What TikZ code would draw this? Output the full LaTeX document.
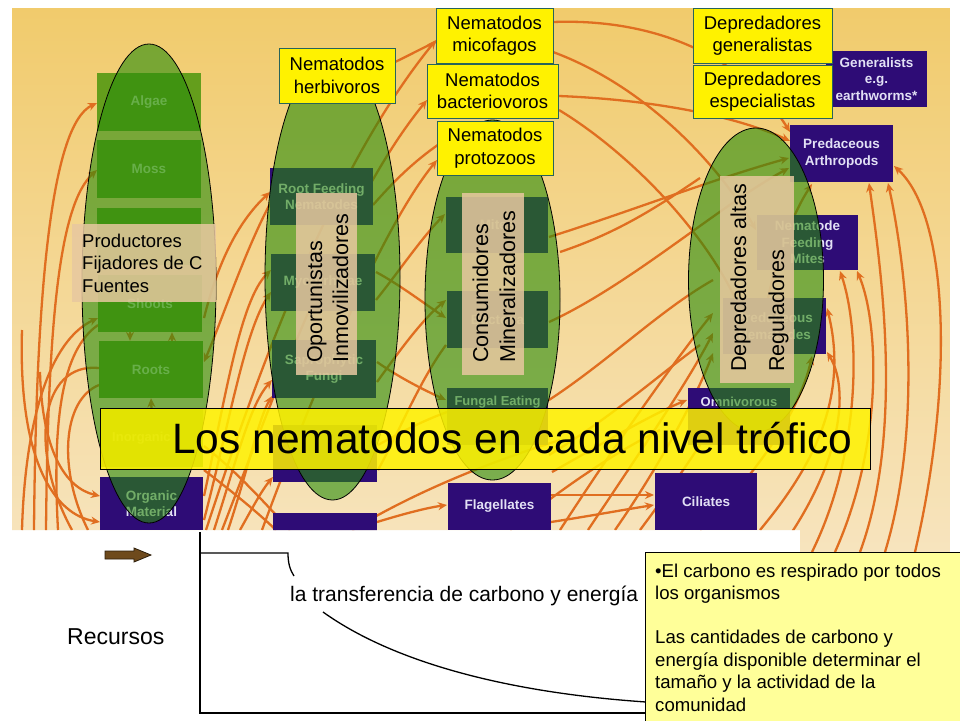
\documentclass[tikz,border=0pt]{standalone}
\usepackage{fontspec}
\setmainfont{Liberation Sans}
\usetikzlibrary{arrows.meta,shapes.geometric}
\definecolor{bgtop}{RGB}{241,203,108}
\definecolor{bgmid}{RGB}{245,219,158}
\definecolor{bgbot}{RGB}{247,228,190}
\definecolor{orng}{RGB}{224,110,32}
\definecolor{gbox}{RGB}{100,158,28}
\definecolor{pbox}{RGB}{46,12,118}
\definecolor{ellg}{RGB}{40,140,10}
\definecolor{tanlab}{RGB}{232,200,160}
\definecolor{ybord}{RGB}{40,100,90}
\definecolor{notey}{RGB}{255,255,153}
\definecolor{brwn}{RGB}{110,74,28}
\definecolor{gtext}{RGB}{200,228,170}
\definecolor{ptext}{RGB}{226,224,245}
\begin{document}
\begin{tikzpicture}[x=1pt,y=-1pt,
  wire/.style={draw=orng,line width=2.3pt},
  arr/.style={-{Stealth[length=9pt,width=8pt]}},
  webbox/.style={rectangle,inner sep=0pt,align=center,font=\bfseries\fontsize{13.5}{16.5}\selectfont},
  gb/.style={webbox,fill=gbox,text=gtext},
  pb/.style={webbox,fill=pbox,text=ptext},
  webtxt/.style={inner sep=0pt,font=\bfseries\fontsize{13}{16}\selectfont},
  grp/.style={ellipse,inner sep=0pt,draw=black,line width=0.8pt,fill=ellg,fill opacity=0.6},
  tanbox/.style={rectangle,inner sep=0pt,fill=tanlab,fill opacity=0.85},
  labtxt/.style={inner sep=0pt,font=\fontsize{21.5}{25}\selectfont},
  prodtxt/.style={inner sep=0pt,anchor=base west,font=\fontsize{18.5}{22.5}\selectfont},
  ylab/.style={rectangle,inner sep=0pt,fill=yellow,draw=ybord,line width=0.8pt,align=center,font=\fontsize{18.5}{22.5}\selectfont},
  notetxt/.style={inner sep=0pt,anchor=base west,font=\fontsize{18.6}{22.5}\selectfont},
]
\useasboundingbox (0,0) rectangle (960,720);
\fill[white] (0,0) rectangle (960,720);

\begin{scope}
\clip (12,8) -- (950,8) -- (950,552) -- (800,552) -- (800,530) -- (12,530) -- cycle;
\shade[top color=bgtop, middle color=bgmid, bottom color=bgbot] (12,8) rectangle (950,552);

% ---- left arrows
\draw[wire,arr] (34,530) .. controls (36,300) and (50,125) .. (97,103);
\draw[wire,arr] (46,530) .. controls (48,330) and (58,205) .. (97,170);
\draw[wire,arr] (22,530) .. controls (25,420) and (50,340) .. (98,318);
\draw[wire] (58,530) .. controls (52,420) and (62,350) .. (98,325);
\draw[wire] (99,368) .. controls (40,362) and (28,450) .. (72,530);
\draw[wire,arr] (40,372) .. controls (42,450) and (65,488) .. (100,496);
\draw[wire,arr] (22,330) .. controls (18,462) and (55,515) .. (100,522);
\draw[wire] (99,385) .. controls (62,400) and (58,470) .. (88,530);

% ---- column 1 -> column 2
\draw[wire,arr] (272,200) .. controls (245,250) and (222,320) .. (204,362);
\draw[wire,arr] (204,318) .. controls (218,262) and (238,222) .. (270,192);
\draw[wire,arr] (204,496) .. controls (225,400) and (240,300) .. (271,270);
\draw[wire,arr] (204,520) .. controls (230,420) and (245,330) .. (271,292);
\draw[wire,arr] (214,530) .. controls (238,455) and (250,405) .. (272,380);
\draw[wire,arr] (228,530) .. controls (248,470) and (258,420) .. (272,396);
\draw[wire,arr] (240,530) .. controls (254,505) and (262,490) .. (273,477);
\draw[wire] (204,470) .. controls (230,490) and (255,510) .. (276,530);
\draw[wire] (204,446) .. controls (235,470) and (262,500) .. (290,530);

% ---- long lines to the top
\draw[wire,arr] (206,530) .. controls (255,380) and (330,170) .. (436,40);
\draw[wire,arr] (222,530) .. controls (280,380) and (345,200) .. (427,100);
\draw[wire,arr] (262,530) .. controls (310,400) and (380,230) .. (437,160);
\draw[wire] (373,205) .. controls (395,180) and (415,160) .. (445,140);
\draw[wire] (395,62) .. controls (410,55) and (422,48) .. (436,42);

% ---- column 2 -> column 3
\draw[wire,arr] (376,272) .. controls (400,285) and (422,302) .. (446,318);
\draw[wire,arr] (377,382) .. controls (400,350) and (422,320) .. (446,300);
\draw[wire,arr] (377,362) .. controls (400,378) and (424,390) .. (446,400);
\draw[wire,arr] (376,300) .. controls (400,270) and (420,240) .. (445,214);
\draw[wire] (378,470) .. controls (400,430) and (420,380) .. (446,345);
\draw[wire] (378,445) .. controls (405,430) and (425,420) .. (447,412);

% ---- bottom middle
\draw[wire,arr] (377,522) .. controls (400,515) and (425,508) .. (447,505);
\draw[wire] (352,530) .. controls (410,495) and (480,465) .. (560,440);
\draw[wire,arr] (551,495) -- (654,495);
\draw[wire,arr] (551,522) .. controls (590,516) and (622,510) .. (654,505);
\draw[wire] (510,530) .. controls (560,490) and (610,455) .. (660,430);

% ---- column 3 -> column 4
\draw[wire,arr] (549,237) .. controls (620,215) and (710,180) .. (789,158);
\draw[wire,arr] (549,322) .. controls (630,285) and (720,205) .. (789,168);
\draw[wire,arr] (560,530) .. controls (615,445) and (675,360) .. (713,313);
\draw[wire,arr] (588,530) .. controls (638,455) and (688,382) .. (713,333);
\draw[wire,arr] (615,530) .. controls (658,468) and (695,400) .. (713,353);
\draw[wire] (549,400) .. controls (610,360) and (660,310) .. (713,280);
\draw[wire] (549,455) .. controls (615,415) and (665,370) .. (700,345);
\draw[wire] (560,252) .. controls (620,232) and (660,205) .. (700,178);
\draw[wire,arr] (552,472) .. controls (600,445) and (650,415) .. (687,400);
\draw[wire] (640,530) .. controls (670,490) and (690,460) .. (700,445);

% ---- top arcs
\draw[wire,arr] (553,22) .. controls (660,18) and (745,60) .. (790,132);
\draw[wire,arr] (559,96) .. controls (660,100) and (740,118) .. (790,141);
\draw[wire,arr] (553,52) .. controls (650,88) and (722,170) .. (756,230);
\draw[wire] (559,110) .. controls (625,150) and (700,225) .. (735,298);

% ---- right arcs
\draw[wire,arr] (915,552) .. controls (955,380) and (948,215) .. (894,166);
\draw[wire,arr] (885,552) .. controls (925,420) and (905,260) .. (888,183);
\draw[wire,arr] (860,552) .. controls (905,430) and (880,262) .. (869,183);
\draw[wire,arr] (835,552) .. controls (885,440) and (878,320) .. (857,271);
\draw[wire,arr] (812,552) .. controls (862,450) and (860,330) .. (840,271);
\draw[wire,arr] (790,535) .. controls (840,460) and (850,390) .. (827,352);
\draw[wire,arr] (700,530) .. controls (760,470) and (800,410) .. (812,356);
\draw[wire,arr] (760,530) .. controls (810,470) and (850,400) .. (827,308);
\draw[wire,arr] (768,298) .. controls (778,250) and (795,210) .. (812,184);

% ---- web boxes
\node[gb,minimum width=104pt,minimum height=58pt] (algae) at (149,102) {Algae};
\node[gb,minimum width=104pt,minimum height=58pt] (moss) at (149,169) {Moss};
\node[gb,minimum width=104pt,minimum height=57pt] (plant3) at (149,236.5) {};
\node[gb,minimum width=104pt,minimum height=57pt] (shoots) at (150,303.5) {Shoots};
\node[gb,minimum width=104pt,minimum height=57pt] (roots) at (151,369.5) {Roots};
\node[gb,minimum width=103pt,minimum height=58pt] (inorg) at (151.5,438) {};
\node[webtxt,text=gtext,anchor=west] (inorgt) at (112,438) {Inorganic};
\node[pb,minimum width=103pt,minimum height=53pt] (orgmat) at (151.5,503.5) {Organic\\Material};
\node[pb,minimum width=103pt,minimum height=57pt] (rootfeed) at (321.5,196.5) {Root Feeding\\Nematodes};
\node[pb,minimum width=104pt,minimum height=57pt] (mycor) at (323,282.5) {Mycorrhizae};
\node[pb,minimum width=104pt,minimum height=58pt] (sapro) at (324,369) {Saprophytic\\Fungi};
\node[pb,minimum width=104pt,minimum height=57pt] (purp2) at (325,453.5) {};
\node[pb,minimum width=104pt,minimum height=47pt] (purp3) at (325,536.5) {};
\node[pb,minimum width=102pt,minimum height=56pt] (mites) at (497,225) {Mites};
\node[pb,minimum width=101pt,minimum height=57pt] (bact) at (497.5,319.5) {Bacteria};
\node[pb,minimum width=101pt,minimum height=57pt] (fungal) at (497.5,416.5) {};
\node[webtxt,text=ptext] (fungalt) at (497.5,402) {Fungal Eating};
\node[pb,minimum width=103pt,minimum height=47pt] (flag) at (499.5,506.5) {Flagellates};
\node[pb,minimum width=102pt,minimum height=57pt] (cil) at (706,501.5) {Ciliates};
\node[pb,minimum width=102pt,minimum height=57pt] (omni) at (739,416.5) {};
\node[webtxt,text=ptext] (omnit) at (739,402) {Omnivorous};
\node[pb,minimum width=103pt,minimum height=56pt] (prednem) at (774.5,326) {Predaceous\\Nematodes};
\node[pb,minimum width=101pt,minimum height=55pt] (nfm) at (807.5,242.5) {Nematode\\Feeding\\Mites};
\node[pb,minimum width=103pt,minimum height=57pt] (predarth) at (841.5,153.5) {Predaceous\\Arthropods};
\node[pb,minimum width=101pt,minimum height=56pt] (general) at (876.5,79) {Generalists\\e.g.\\earthworms*};

% short arrows between producer boxes
\draw[wire,arr] (shoots.south -| 130,0) -- (roots.north -| 130,0);
\draw[wire,arr] (roots.north -| 172,0) -- (shoots.south -| 172,0);
\draw[wire,arr] (inorg.north) -- (roots.south);
\end{scope}

% ---- groups (ellipses)
\node[grp,minimum width=134pt,minimum height=479pt] (e1) at (149,283.5) {};
\node[grp,minimum width=135pt,minimum height=446pt] (e2) at (332.5,277) {};
\node[grp,minimum width=135pt,minimum height=360pt] (e3) at (492.5,300) {};
\node[grp,minimum width=135pt,minimum height=304pt] (e4) at (756,280) {};

% ---- tan labels
\node[tanbox,minimum width=144pt,minimum height=78pt] (lab1) at (144,263) {};
\node[tanbox,minimum width=61pt,minimum height=182pt] (lab2) at (326.5,284) {};
\node[tanbox,minimum width=62pt,minimum height=182pt] (lab3) at (493,284) {};
\node[tanbox,minimum width=74pt,minimum height=207pt] (lab4) at (757,279.5) {};

\node[prodtxt] (p1) at (82,247) {Productores};
\node[prodtxt] (p2) at (82,269.5) {Fijadores de C};
\node[prodtxt] (p3) at (82,292) {Fuentes};
\node[labtxt,rotate=90,anchor=base west] (op1) at (322,363) {Oportunistas};
\node[labtxt,rotate=90,anchor=base west] (op2) at (348,363) {Inmovilizadores};
\node[labtxt,rotate=90,anchor=base west] (co1) at (488,363) {Consumidores};
\node[labtxt,rotate=90,anchor=base west] (co2) at (515,363) {Mineralizadores};
\node[labtxt,rotate=90,anchor=base west] (de1) at (746,372) {Depredadores altas};
\node[labtxt,rotate=90,anchor=base west] (de2) at (784,372) {Reguladores};

% ---- yellow labels
\node[ylab,minimum width=116pt,minimum height=55pt] (herb) at (337,75.5) {Nematodos\\herbivoros};
\node[ylab,minimum width=117pt,minimum height=55pt] (micof) at (494.5,35.5) {Nematodos\\micofagos};
\node[ylab,minimum width=131pt,minimum height=54pt] (bacter) at (492.5,91) {Nematodos\\bacteriovoros};
\node[ylab,minimum width=116pt,minimum height=54pt] (protoz) at (495,148) {Nematodos\\protozoos};
\node[ylab,minimum width=139pt,minimum height=55pt] (degen) at (762.5,35.5) {Depredadores\\generalistas};
\node[ylab,minimum width=139pt,minimum height=53pt] (deesp) at (762.5,91.5) {Depredadores\\especialistas};

% ---- title
\node[draw=black,line width=1pt,fill=yellow,fill opacity=0.85,minimum width=770pt,minimum height=61pt,inner sep=0pt] (title) at (485,438.5) {};
\node[inner sep=0pt,anchor=base west,font=\fontsize{42.5}{50}\selectfont] (ttext) at (172,453) {Los nematodos en cada nivel trófico};

% ---- lower graph
\coordinate (ytop) at (200,532);
\coordinate (orig) at (200,713);
\coordinate (xend) at (650,713);
\draw[line width=2pt] (ytop) -- (orig) -- (xend);
\coordinate (s0) at (200,553);
\coordinate (s1) at (288,553);
\coordinate (s2) at (294,576);
\draw[line width=1.3pt] (s0) -- (s1) .. controls (288,563) and (290,570) .. (s2);
\coordinate (d0) at (323,612);
\coordinate (d1) at (646,702);
\draw[line width=1.3pt] (d0) .. controls (390,660) and (500,692) .. (d1);
\node[inner sep=0pt,anchor=base west,font=\fontsize{21}{25}\selectfont] (trans) at (290,601) {la transferencia de carbono y energía};
\node[inner sep=0pt,anchor=base west,font=\fontsize{23}{27}\selectfont] (recur) at (67,644) {Recursos};
\draw[fill=brwn,draw=black!60!brwn,line width=0.8pt] (105,551) -- (134,551) -- (134,548) -- (151,555) -- (134,562) -- (134,559) -- (105,559) -- cycle;

% ---- note
\node[draw=black,line width=0.8pt,fill=notey,minimum width=316pt,minimum height=169pt,inner sep=0pt] (note) at (803,636.5) {};
\node[notetxt] (n1) at (655,577) {•El carbono es respirado por todos};
\node[notetxt] (n2) at (655,599.5) {los organismos};
\node[notetxt] (n3) at (655,643.5) {Las cantidades de carbono y};
\node[notetxt] (n4) at (655,666) {energía disponible determinar el};
\node[notetxt] (n5) at (655,688.5) {tamaño y la actividad de la};
\node[notetxt] (n6) at (655,711) {comunidad};
\end{tikzpicture}
\end{document}
